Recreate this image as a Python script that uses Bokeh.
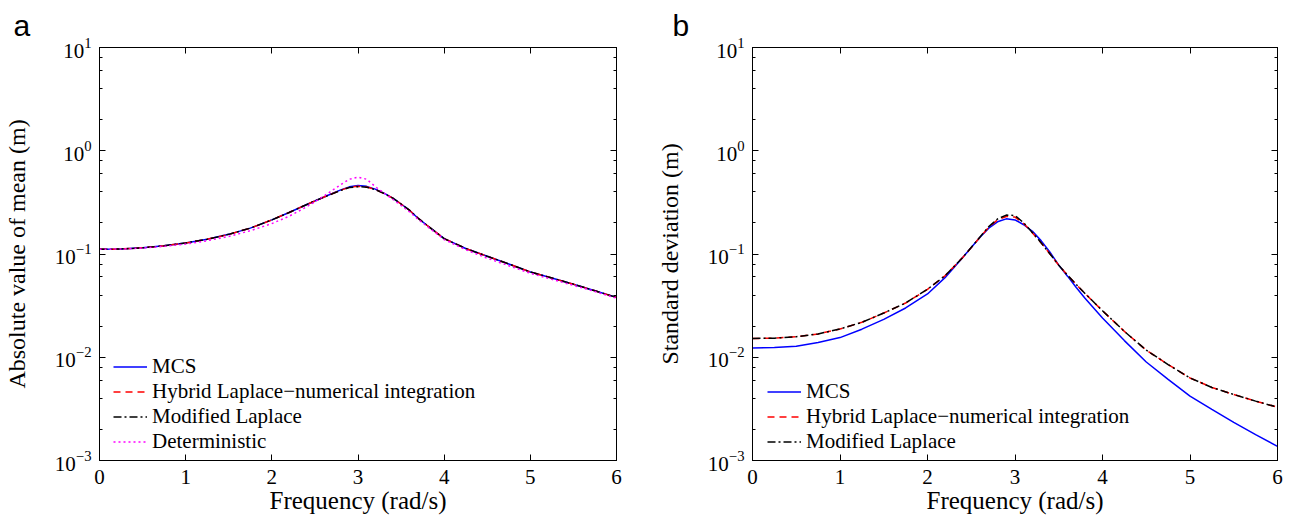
from bokeh.plotting import figure
from bokeh.models import (LogAxis, LinearAxis, Legend, LegendItem, FixedTicker,
                          LogTicker, LogTickFormatter, CustomJSTickFormatter, Range1d)
from bokeh.layouts import row
from bokeh.embed import file_html
from bokeh.resources import INLINE

# ---------------- data ----------------
omega = [0, 0.25, 0.5, 0.75, 1.0, 1.25, 1.5, 1.75, 2.0, 2.2, 2.4, 2.6, 2.7, 2.8, 2.9, 3.0,
         3.1, 3.2, 3.3, 3.4, 3.5, 3.6, 3.7, 3.8, 4.0, 4.25, 4.5, 4.75, 5.0, 5.25, 5.5, 5.75, 6.0]

mean_mcs = [0.111, 0.1118, 0.1148, 0.120, 0.128, 0.139, 0.155, 0.178, 0.214, 0.252, 0.300,
            0.355, 0.385, 0.418, 0.447, 0.460, 0.452, 0.425, 0.388, 0.350, 0.305, 0.264,
            0.221, 0.190, 0.141, 0.113, 0.095, 0.080, 0.067, 0.0585, 0.051, 0.044, 0.038]
mean_hybrid = [0.111, 0.1118, 0.1148, 0.120, 0.128, 0.139, 0.155, 0.178, 0.214, 0.252, 0.300,
               0.355, 0.383, 0.415, 0.443, 0.452, 0.446, 0.422, 0.387, 0.349, 0.305, 0.264,
               0.221, 0.190, 0.141, 0.113, 0.095, 0.080, 0.067, 0.0585, 0.051, 0.044, 0.038]
mean_modified = [0.111, 0.1118, 0.1148, 0.120, 0.128, 0.139, 0.155, 0.178, 0.214, 0.252, 0.300,
                 0.355, 0.382, 0.413, 0.440, 0.449, 0.444, 0.421, 0.387, 0.349, 0.305, 0.264,
                 0.221, 0.190, 0.141, 0.113, 0.095, 0.080, 0.067, 0.0585, 0.051, 0.044, 0.038]
mean_det = [0.111, 0.1117, 0.1142, 0.1185, 0.125, 0.1345, 0.148, 0.168, 0.197, 0.232, 0.285,
            0.362, 0.412, 0.470, 0.530, 0.556, 0.530, 0.450, 0.390, 0.340, 0.295, 0.255,
            0.216, 0.186, 0.138, 0.110, 0.091, 0.077, 0.065, 0.0568, 0.0497, 0.0433, 0.0373]

std_mcs = [0.0123, 0.0124, 0.0128, 0.0139, 0.0155, 0.0187, 0.0233, 0.030, 0.041, 0.059, 0.092,
           0.145, 0.178, 0.205, 0.219, 0.214, 0.192, 0.166, 0.134, 0.104, 0.078, 0.061,
           0.0473, 0.0372, 0.024, 0.0145, 0.0090, 0.0061, 0.0042, 0.00313, 0.00234, 0.00178, 0.00137]
std_hybrid = [0.0152, 0.0153, 0.0158, 0.0168, 0.0188, 0.0218, 0.0268, 0.0335, 0.0455, 0.0615,
              0.092, 0.145, 0.182, 0.214, 0.231, 0.228, 0.197, 0.160, 0.128, 0.100, 0.078,
              0.0624, 0.0507, 0.0415, 0.0282, 0.0178, 0.0117, 0.0085, 0.0063, 0.0051, 0.00436,
              0.00376, 0.00328]
std_modified = [0.0152, 0.0153, 0.0158, 0.0168, 0.0188, 0.0218, 0.0268, 0.0335, 0.0455, 0.0615,
                0.092, 0.146, 0.184, 0.218, 0.238, 0.236, 0.200, 0.161, 0.128, 0.100, 0.078,
                0.0624, 0.0507, 0.0415, 0.0282, 0.0178, 0.0117, 0.0085, 0.0063, 0.0051, 0.00436,
                0.00376, 0.00328]

x_ticks = [0, 1, 2, 3, 4, 5, 6]

SERIF = "Liberation Serif"
SANS = "Liberation Sans"
TICK_FS = "21px"
XLAB_FS = "25px"
YLAB_FS = "24px"
LEG_FS = "21px"


def empty_fmt():
    return CustomJSTickFormatter(code="return ''")


def style_axis(ax, log=False, lab_fs=YLAB_FS):
    ax.axis_line_color = "black"
    ax.major_tick_line_color = "black"
    ax.minor_tick_line_color = "black"
    ax.major_tick_in = 6
    ax.major_tick_out = 0
    ax.minor_tick_in = 3 if log else 0
    ax.minor_tick_out = 0
    ax.major_label_text_font = SERIF
    ax.major_label_text_font_size = TICK_FS
    ax.major_label_text_color = "black"
    ax.axis_label_text_font = SERIF
    ax.axis_label_text_font_size = lab_fs
    ax.axis_label_text_font_style = "normal"
    ax.axis_label_text_color = "black"


def make_fig(width, bl, br, ylabel, ylab_standoff, letter, letter_dx):
    p = figure(width=width, height=520, y_axis_type="log",
               x_range=Range1d(0, 6), y_range=Range1d(1e-3, 1e1),
               output_backend="svg", toolbar_location=None,
               min_border_left=bl, min_border_right=br, min_border_top=45, min_border_bottom=60)
    p.grid.visible = False
    p.outline_line_color = "black"
    p.outline_line_width = 1
    p.background_fill_color = "white"
    p.border_fill_color = "white"

    p.title.text = letter
    p.title.align = "left"
    p.title.offset = letter_dx
    p.title.text_font = SANS
    p.title.text_font_size = "30px"
    p.title.text_font_style = "normal"
    p.title.text_color = "black"
    p.title.standoff = 12

    xa = p.xaxis[0]
    xa.ticker = FixedTicker(ticks=x_ticks, minor_ticks=[])
    style_axis(xa, lab_fs=XLAB_FS)
    xa.axis_label = "Frequency (rad/s)"
    xa.major_label_standoff = 9
    xa.axis_label_standoff = 0

    ya = p.yaxis[0]
    ya.ticker = LogTicker()
    ya.formatter = LogTickFormatter()
    style_axis(ya, log=True)
    ya.major_label_standoff = 8
    ya.axis_label = ylabel
    ya.axis_label_standoff = ylab_standoff

    top = LinearAxis(ticker=FixedTicker(ticks=x_ticks, minor_ticks=[]), formatter=empty_fmt())
    style_axis(top)
    top.major_label_standoff = 0
    p.add_layout(top, "above")

    right = LogAxis(ticker=LogTicker(), formatter=empty_fmt())
    style_axis(right, log=True)
    right.major_label_standoff = 0
    p.add_layout(right, "right")
    return p


def style_legend(leg):
    leg.glyph_width = 34
    leg.glyph_height = 21
    leg.label_height = 21
    leg.spacing = 0
    leg.padding = 0
    leg.margin = 0
    leg.label_standoff = 5
    leg.label_text_font = SERIF
    leg.label_text_font_size = LEG_FS
    leg.label_text_color = "black"
    leg.background_fill_alpha = 0
    leg.border_line_alpha = 0


# ---------------- panel a ----------------
pa = make_fig(646, 98, 30, "Absolute value of mean (m)", 22, "a", -86)
r1 = pa.line(omega, mean_mcs, line_color="#0000FF", line_width=1.5)
r2 = pa.line(omega, mean_hybrid, line_color="#FF0000", line_width=1.5, line_dash="7 5")
r3 = pa.line(omega, mean_modified, line_color="black", line_width=1.5, line_dash="8 3 2 3")
r4 = pa.line(omega, mean_det, line_color="#FF00FF", line_width=1.5, line_dash="2 3")
leg_a = Legend(items=[LegendItem(label="MCS", renderers=[r1]),
                      LegendItem(label="Hybrid Laplace\u2212numerical integration", renderers=[r2]),
                      LegendItem(label="Modified Laplace", renderers=[r3]),
                      LegendItem(label="Deterministic", renderers=[r4])],
               location=(14, 6))
style_legend(leg_a)
pa.add_layout(leg_a)

# ---------------- panel b ----------------
pb = make_fig(640, 106, 9, "Standard deviation (m)", 22, "b", -80)
s1 = pb.line(omega, std_mcs, line_color="#0000FF", line_width=1.5)
s2 = pb.line(omega, std_hybrid, line_color="#FF0000", line_width=1.5, line_dash="7 5")
s3 = pb.line(omega, std_modified, line_color="black", line_width=1.5, line_dash="8 3 2 3")
leg_b = Legend(items=[LegendItem(label="MCS", renderers=[s1]),
                      LegendItem(label="Hybrid Laplace\u2212numerical integration", renderers=[s2]),
                      LegendItem(label="Modified Laplace", renderers=[s3])],
               location=(15, 6))
style_legend(leg_b)
pb.add_layout(leg_b)

layout = row(pa, pb, spacing=0)
open("out.html", "w").write(file_html(layout, INLINE))
